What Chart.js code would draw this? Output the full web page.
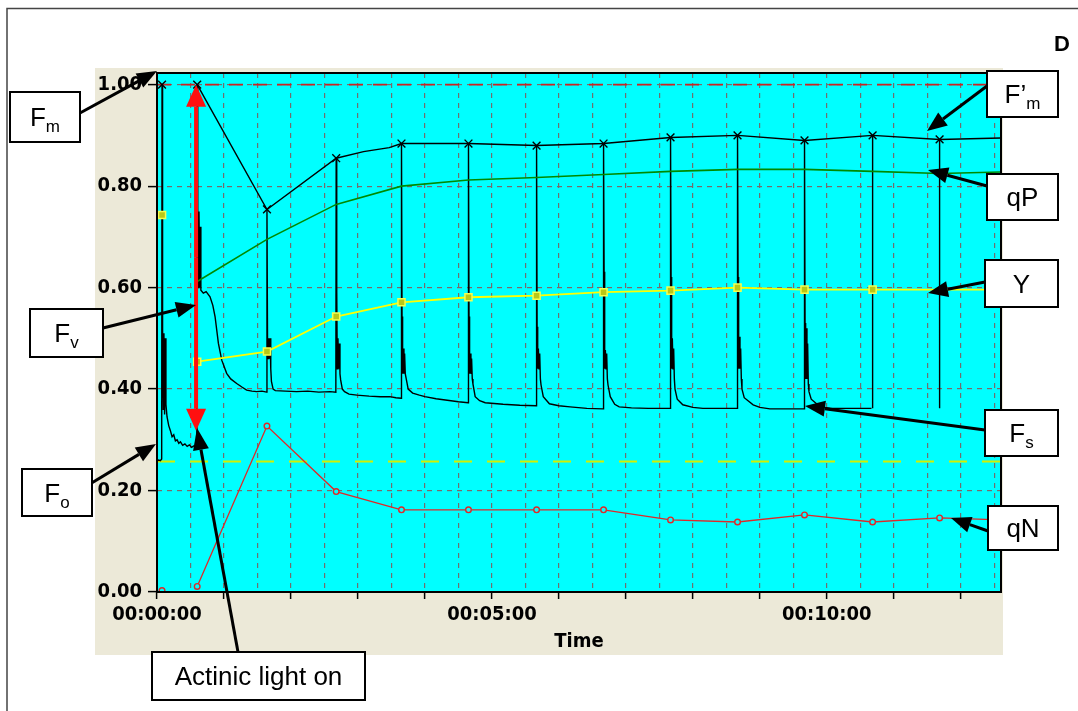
<!DOCTYPE html>
<html>
<head>
<meta charset="utf-8">
<script src="https://cdn.jsdelivr.net/npm/chart.js@4.4.1/dist/chart.umd.min.js"></script>
<style>
html,body{margin:0;padding:0;background:#fff;}
#wrap{position:relative;width:1078px;height:711px;}
canvas{display:block;}
</style>
</head>
<body>
<div id="wrap"><canvas id="c" width="1078" height="711"></canvas></div>
<script>
// ---------------- DATA (time in seconds) ----------------
const darkTime = 4.5;               // dark-adapted saturating pulse
const pulseTimes   = [36, 98.5, 160.5, 219, 279, 340, 400, 460, 520, 580, 641, 701];

const fmPrimeTimes  = [4.5, 20, 36, 98.5, 160.5, 185, 208, 219, 279, 340, 400, 460, 520, 580, 641, 701, 756];
const fmPrimeValues = [1.00, null, 1.00, 0.754, 0.855, 0.868, 0.876, 0.884, 0.884, 0.880, 0.884, 0.896, 0.900, 0.890, 0.900, 0.892, 0.895];

const qPTimes  = [36, 98.5, 160.5, 219, 279, 340, 400, 460, 520, 580, 641, 701, 756];
const qPValues = [0.612, 0.695, 0.764, 0.800, 0.812, 0.817, 0.823, 0.829, 0.833, 0.833, 0.829, 0.825, 0.828];

const yieldTimes  = [4.5, 20, 36, 98.5, 160.5, 219, 279, 340, 400, 460, 520, 580, 641, 756];
const yieldValues = [0.743, null, 0.454, 0.474, 0.543, 0.571, 0.581, 0.584, 0.591, 0.594, 0.600, 0.596, 0.596, 0.596];

const qNTimes  = [4.5, 20, 36, 98.5, 160.5, 219, 279, 340, 400, 460, 520, 580, 641, 701, 756];
const qNValues = [0.003, null, 0.011, 0.327, 0.198, 0.162, 0.162, 0.162, 0.162, 0.142, 0.138, 0.152, 0.138, 0.146, 0.142];

const foLevel = 0.257;   // yellow dashed reference
const fmLevel = 1.00;    // red dashed reference

// Fluorescence trace [time s, relative fluorescence]
const fluorescenceTrace = [
  [0,0.258],[1.5,0.260],[3,0.259],[4.2,0.262],[4.5,1.00],[5.0,0.52],[5.6,0.36],[6.2,0.51],[6.8,0.35],[7.4,0.50],[8.0,0.37],
  [9,0.345],[10.5,0.328],[12,0.318],[13.5,0.306],[15,0.310],[16.5,0.298],[18,0.300],[19.5,0.293],[21,0.296],
  [23,0.289],[25,0.292],[27,0.287],[29,0.290],[31,0.285],[33,0.288],[35.7,0.290],
  [36,1.00],[36.5,0.76],[37.0,0.60],[37.6,0.75],[38.2,0.60],[38.8,0.72],[39.3,0.595],[41.5,0.589],[44,0.592],
  [47.5,0.582],[50,0.565],[52,0.543],[55,0.490],[58,0.457],[62.4,0.431],[66,0.420],[71.4,0.411],[76,0.404],[80.3,0.398],
  [85,0.396],[89.3,0.395],[94,0.396],[98.2,0.394],
  [98.5,0.754],[99,0.50],[99.5,0.46],[100.1,0.50],[100.7,0.46],[101.3,0.50],[101.9,0.44],[102.5,0.415],[104,0.400],[106,0.397],
  [115,0.396],[125,0.395],[135,0.396],[145,0.394],[155,0.395],[160.2,0.394],
  [160.5,0.855],[161,0.595],[161.5,0.44],[162.1,0.50],[162.7,0.44],[163.3,0.49],[163.9,0.43],[164.5,0.418],[166,0.400],[168,0.395],
  [172,0.390],[179,0.388],[190,0.386],[200,0.385],[208.6,0.385],[214,0.383],[218.7,0.382],
  [219,0.884],[219.5,0.543],[220,0.43],[220.6,0.48],[221.2,0.43],[221.8,0.47],[222.4,0.43],[223,0.430],[225,0.400],[229,0.392],
  [235,0.388],[240,0.385],[250,0.381],[260,0.378],[270,0.375],[278.7,0.373],
  [279,0.884],[279.5,0.543],[280,0.43],[280.6,0.47],[281.2,0.43],[281.8,0.46],[282.4,0.42],[283,0.410],[285,0.385],[289,0.377],
  [294,0.373],[310,0.370],[325,0.368],[339.7,0.367],
  [340,0.880],[340.5,0.523],[341,0.44],[341.6,0.48],[342.2,0.44],[342.8,0.47],[343.4,0.42],[344,0.408],[346,0.385],[351.5,0.371],
  [360,0.367],[370,0.365],[385,0.362],[399.7,0.361],
  [400,0.884],[400.5,0.631],[401,0.44],[401.6,0.477],[402.2,0.44],[402.8,0.47],[403.4,0.42],[404,0.408],[406,0.385],[410,0.370],
  [414,0.365],[425,0.363],[440,0.362],[459.7,0.362],
  [460,0.896],[460.5,0.621],[461,0.44],[461.6,0.50],[462.2,0.44],[462.8,0.48],[463.4,0.42],[464,0.400],[466,0.380],[471,0.369],
  [480,0.364],[489,0.362],[505,0.362],[519.7,0.362],
  [520,0.900],[520.5,0.621],[521,0.44],[521.6,0.503],[522.2,0.44],[522.8,0.48],[523.4,0.42],[524,0.400],[526,0.383],[534,0.369],
  [540,0.364],[549,0.361],[565,0.361],[579.7,0.361],
  [580,0.890],[580.5,0.53],[581,0.42],[581.6,0.52],[582.2,0.42],[582.8,0.49],[583.4,0.41],[584,0.395],[586,0.380],[594,0.365],
  [605,0.362],[615,0.362],[628,0.362],[640,0.362],
  [640.5,null],[641,0.362],[641,0.900],[641.5,null],
  [700.5,null],[701,0.362],[701,0.892],[701.5,null]
];

const xMin = 0, xMax = 756;       // seconds
const yMin = 0, yMax = 1.023;
const xLabelEvery = 300, xTickEvery = 60, xGridEvery = 30;
const yStep = 0.2;

// ---------------- HELPERS ----------------
const pts = (ts, vs) => ts.map((t, i) => ({x: t, y: vs[i]}));
const hms = s => {
  const h = Math.floor(s / 3600), m = Math.floor((s % 3600) / 60), sec = Math.round(s % 60);
  return [h, m, sec].map(n => String(n).padStart(2, '0')).join(':');
};
const markerTimes = [darkTime].concat(pulseTimes);
const markerRadius = r => ctx => (ctx.raw && markerTimes.includes(ctx.raw.x) ? r : 0);

const tickFont = {family: "'DejaVu Sans Condensed','DejaVu Sans',sans-serif", size: 20, weight: 'bold'};

// ---------------- DECORATION PLUGIN ----------------
function arrow(ctx, x1, y1, x2, y2, color, lw, hl, hw) {
  const a = Math.atan2(y2 - y1, x2 - x1);
  const bx = x2 - hl * Math.cos(a), by = y2 - hl * Math.sin(a);
  ctx.strokeStyle = color; ctx.lineWidth = lw; ctx.lineCap = 'butt';
  ctx.beginPath(); ctx.moveTo(x1, y1); ctx.lineTo(bx, by); ctx.stroke();
  ctx.fillStyle = color;
  ctx.beginPath(); ctx.moveTo(x2, y2);
  ctx.lineTo(bx + hw / 2 * Math.sin(a), by - hw / 2 * Math.cos(a));
  ctx.lineTo(bx - hw / 2 * Math.sin(a), by + hw / 2 * Math.cos(a));
  ctx.closePath(); ctx.fill();
}
function labelBox(ctx, x, y, w, h, main, sub) {
  ctx.fillStyle = '#fff'; ctx.fillRect(x, y, w, h);
  ctx.strokeStyle = '#000'; ctx.lineWidth = 2; ctx.strokeRect(x, y, w, h);
  ctx.fillStyle = '#000'; ctx.textBaseline = 'alphabetic'; ctx.textAlign = 'left';
  const mf = "26px 'Liberation Sans', Arial, sans-serif", sf = "17px 'Liberation Sans', Arial, sans-serif";
  ctx.font = mf; const mw = ctx.measureText(main).width;
  let sw = 0; if (sub) { ctx.font = sf; sw = ctx.measureText(sub).width; }
  const x0 = x + (w - mw - sw) / 2, base = y + h / 2 + 9;
  ctx.font = mf; ctx.fillText(main, x0, base);
  if (sub) { ctx.font = sf; ctx.fillText(sub, x0 + mw, base + 6); }
}

const decor = {
  id: 'decor',
  beforeDraw(chart) {
    const ctx = chart.ctx, a = chart.chartArea;
    ctx.save();
    ctx.fillStyle = '#fff'; ctx.fillRect(0, 0, chart.width, chart.height);
    ctx.strokeStyle = '#444'; ctx.lineWidth = 1.5;
    ctx.beginPath(); ctx.moveTo(7, chart.height); ctx.lineTo(7, 8.5); ctx.lineTo(chart.width, 8.5); ctx.stroke();
    ctx.fillStyle = '#ece9d8'; ctx.fillRect(95, 68, 908, 587);
    ctx.fillStyle = '#00ffff'; ctx.fillRect(a.left, a.top, a.right - a.left, a.bottom - a.top);
    ctx.restore();
  },
  afterDatasetsDraw(chart) {
    const ctx = chart.ctx, a = chart.chartArea;
    ctx.save();
    ctx.strokeStyle = '#000'; ctx.lineWidth = 2;
    ctx.strokeRect(a.left, a.top, a.right - a.left, a.bottom - a.top);
    ctx.restore();
  },
  afterDraw(chart) {
    const ctx = chart.ctx, xs = chart.scales.x, ys = chart.scales.y;
    ctx.save();
    // red double arrow (Fv span)
    const rx = xs.getPixelForValue(35);
    const yTop = ys.getPixelForValue(1.0), yBot = ys.getPixelForValue(0.318);
    const mid = (yTop + yBot) / 2;
    arrow(ctx, rx, mid, rx, yTop, '#ff1010', 4, 22, 20);
    arrow(ctx, rx, mid, rx, yBot, '#ff1010', 4, 22, 20);
    // black arrows
    const k = '#000';
    arrow(ctx, 80, 113, 157, 71, k, 3, 20, 16);          // Fm
    arrow(ctx, 987, 86, 927, 131, k, 3, 20, 16);         // F'm
    arrow(ctx, 987, 186, 928, 170, k, 3, 20, 16);        // qP
    arrow(ctx, 985, 282, 928, 293, k, 3, 20, 16);        // Y
    arrow(ctx, 985, 430, 805, 406, k, 3, 20, 16);        // Fs
    arrow(ctx, 988, 531, 951, 518, k, 3, 20, 16);        // qN
    arrow(ctx, 103, 328, 196, 305, k, 3, 20, 16);        // Fv
    arrow(ctx, 90, 484, 156, 444, k, 3, 20, 16);         // Fo
    arrow(ctx, 238, 652, 197, 428, k, 3, 22, 16);        // actinic
    // boxes
    labelBox(ctx, 10, 92, 70, 50, 'F', 'm');
    labelBox(ctx, 987, 71, 71, 46, 'F\u2019', 'm');
    labelBox(ctx, 987, 174, 71, 46, 'qP');
    labelBox(ctx, 985, 260, 73, 47, 'Y');
    labelBox(ctx, 985, 410, 73, 46, 'F', 's');
    labelBox(ctx, 988, 506, 70, 44, 'qN');
    labelBox(ctx, 30, 309, 73, 48, 'F', 'v');
    labelBox(ctx, 22, 469, 70, 47, 'F', 'o');
    labelBox(ctx, 152, 652, 213, 48, 'Actinic light on');
    // panel letter
    ctx.fillStyle = '#000'; ctx.font = "bold 22px 'Liberation Sans', Arial, sans-serif";
    ctx.textAlign = 'center'; ctx.textBaseline = 'middle';
    ctx.fillText('D', 1062, 45);
    ctx.restore();
  }
};

// ---------------- CHART ----------------
new Chart(document.getElementById('c'), {
  type: 'line',
  data: {
    datasets: [
      { label: 'qN', data: pts(qNTimes, qNValues), borderColor: '#e02828', borderWidth: 1.3,
        pointStyle: 'circle', pointRadius: markerRadius(2.8), pointBorderColor: '#e02828',
        pointBackgroundColor: '#00ffff', pointBorderWidth: 1.4, spanGaps: false, tension: 0 },
      { label: 'Y', data: pts(yieldTimes, yieldValues), borderColor: '#ffff00', borderWidth: 1.8,
        pointStyle: 'rect', pointRadius: markerRadius(5), pointBorderColor: '#f4ff50',
        pointBackgroundColor: '#b8c818', pointBorderWidth: 1.5, spanGaps: false, tension: 0 },
      { label: "F'm", data: pts(fmPrimeTimes, fmPrimeValues), borderColor: '#000', borderWidth: 1.4,
        pointStyle: 'crossRot', pointRadius: markerRadius(5.5), pointBorderColor: '#000',
        pointBorderWidth: 1.4, spanGaps: false, tension: 0 },
      { label: 'qP', data: pts(qPTimes, qPValues), borderColor: '#008a00', borderWidth: 1.6,
        pointRadius: 0, tension: 0 },
      { label: 'F', data: fluorescenceTrace.map(p => ({x: p[0], y: p[1]})), borderColor: '#000',
        borderWidth: 1.4, pointRadius: 0, spanGaps: false, tension: 0 },
      { label: 'Fm level', data: [{x: xMin, y: fmLevel}, {x: xMax, y: fmLevel}], borderColor: '#cc2222',
        borderWidth: 1.6, borderDash: [14, 10], pointRadius: 0 },
      { label: 'Fo level', data: [{x: xMin, y: foLevel}, {x: xMax, y: foLevel}], borderColor: '#d4f000',
        borderWidth: 2, borderDash: [18, 15], pointRadius: 0 }
    ]
  },
  options: {
    responsive: false,
    animation: false,
    devicePixelRatio: 1,
    layout: { padding: { top: 73, right: 77, bottom: 56, left: 0 } },
    plugins: { legend: { display: false }, tooltip: { enabled: false } },
    scales: {
      x: {
        type: 'linear', min: xMin, max: xMax,
        afterFit: s => { s.height = 63; },
        border: { display: false, dash: [5, 5] },
        grid: { color: '#6f6f6f', lineWidth: 1.2, tickLength: 7, drawOnChartArea: true,
                tickColor: c => (c.tick && c.tick.value % xTickEvery === 0 ? '#000' : 'rgba(0,0,0,0)'),
                tickWidth: 1.5 },
        ticks: { stepSize: xGridEvery, includeBounds: false, autoSkip: false, maxRotation: 0,
                 padding: 4, color: '#000', font: tickFont,
                 callback: v => (v % xLabelEvery === 0 ? hms(v) : '') },
        title: { display: true, text: 'Time', color: '#000', font: tickFont, padding: { top: 0, bottom: 1 } }
      },
      y: {
        type: 'linear', min: yMin, max: yMax,
        afterFit: s => { s.width = 157; },
        border: { display: false, dash: [5, 5] },
        grid: { color: '#7a6a6a', lineWidth: 1.2, tickLength: 9, tickColor: '#000', tickWidth: 1.5 },
        ticks: { stepSize: yStep, includeBounds: false, padding: 6, color: '#000', font: tickFont,
                 callback: v => v.toFixed(2) }
      }
    }
  },
  plugins: [decor]
});
</script>
</body>
</html>
